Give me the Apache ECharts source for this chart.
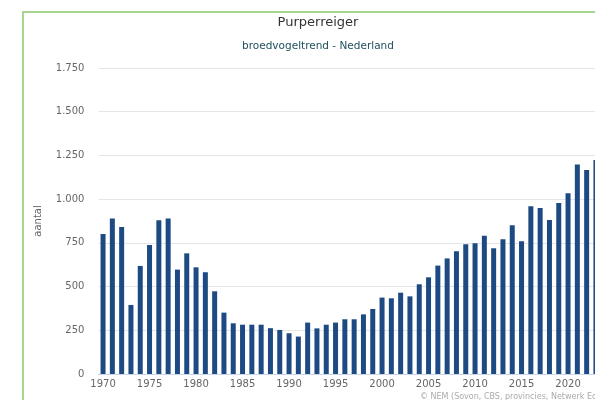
<!DOCTYPE html>
<html>
<head>
<meta charset="utf-8">
<script src="https://cdn.jsdelivr.net/npm/echarts@6/dist/echarts.min.js"></script>
<style>
  html, body { margin: 0; padding: 0; width: 595px; height: 400px; overflow: hidden; background: #fff; }
  #frame { position: absolute; left: 22px; top: 11px; width: 700px; height: 500px;
           border-left: 2px solid #a8d592; border-top: 2px solid #a8d592; }
  #chart { position: absolute; left: 0; top: 0; width: 610px; height: 400px; }
</style>
</head>
<body>
<div id="frame"></div>
<div id="chart"></div>
<script>
// broedparen purperreiger per jaar
const years = [
  '1970','1971','1972','1973','1974','1975','1976','1977','1978','1979',
  '1980','1981','1982','1983','1984','1985','1986','1987','1988','1989',
  '1990','1991','1992','1993','1994','1995','1996','1997','1998','1999',
  '2000','2001','2002','2003','2004','2005','2006','2007','2008','2009',
  '2010','2011','2012','2013','2014','2015','2016','2017','2018','2019',
  '2020','2021','2022','2023'
]
const aantal = [
  800, 890, 840, 395, 618, 738, 880, 890, 597, 690,
  610, 582, 473, 351, 290, 282, 282, 282, 262, 252,
  233, 214, 294, 261, 282, 294, 313, 313, 341, 372,
  437, 433, 465, 444, 513, 553, 620, 661, 702, 742,
  748, 790, 719, 770, 851, 759, 959, 950, 881, 978,
  1034, 1198, 1167, 1224
]
const yTicks = [0, 250, 500, 750, 1000, 1250, 1500, 1750]

const chart = echarts.init(document.getElementById('chart'))

const fmt = v => String(v).replace(/\B(?=(\d{3})+(?!\d))/g, '.')

chart.setOption({
  animation: false,
  textStyle: { fontFamily: 'DejaVu Sans' },
  graphic: [
    {
      type: 'text', x: 318, y: 23,
      style: { text: 'Purperreiger', fill: '#333', font: '13px DejaVu Sans', align: 'center', verticalAlign: 'middle' }
    },
    {
      type: 'text', x: 318, y: 46,
      style: { text: 'broedvogeltrend - Nederland', fill: '#1f4f5e', font: '10.5px DejaVu Sans', align: 'center', verticalAlign: 'middle' }
    },
    {
      type: 'text', x: 420, y: 397,
      style: { text: '© NEM (Sovon, CBS, provincies, Netwerk Ecologische Monitoring)', fill: '#aaa', font: '8px DejaVu Sans', verticalAlign: 'middle' }
    }
  ],
  grid: { left: 98.4, top: 68, width: 502.2, height: 306 },
  xAxis: {
    type: 'category',
    data: years,
    axisLine: { lineStyle: { color: '#ccd6eb' } },
    axisTick: { alignWithLabel: true, interval: i => i % 5 === 0, length: 6, lineStyle: { color: '#ccd6eb' } },
    axisLabel: { interval: i => i % 5 === 0, color: '#666', fontSize: 10, margin: 5 }
  },
  yAxis: {
    type: 'value',
    min: yTicks[0],
    max: yTicks[yTicks.length - 1],
    interval: 250,
    name: 'aantal',
    nameLocation: 'middle',
    nameGap: 55,
    nameTextStyle: { color: '#666', fontSize: 10 },
    axisLine: { show: false },
    axisTick: { show: false },
    axisLabel: { color: '#666', fontSize: 10, margin: 14, formatter: fmt },
    splitLine: { lineStyle: { color: '#e6e6e6' } }
  },
  series: [{
    type: 'bar',
    data: aantal,
    barWidth: 5,
    itemStyle: { color: '#1d4a82' }
  }]
})
</script>
</body>
</html>
